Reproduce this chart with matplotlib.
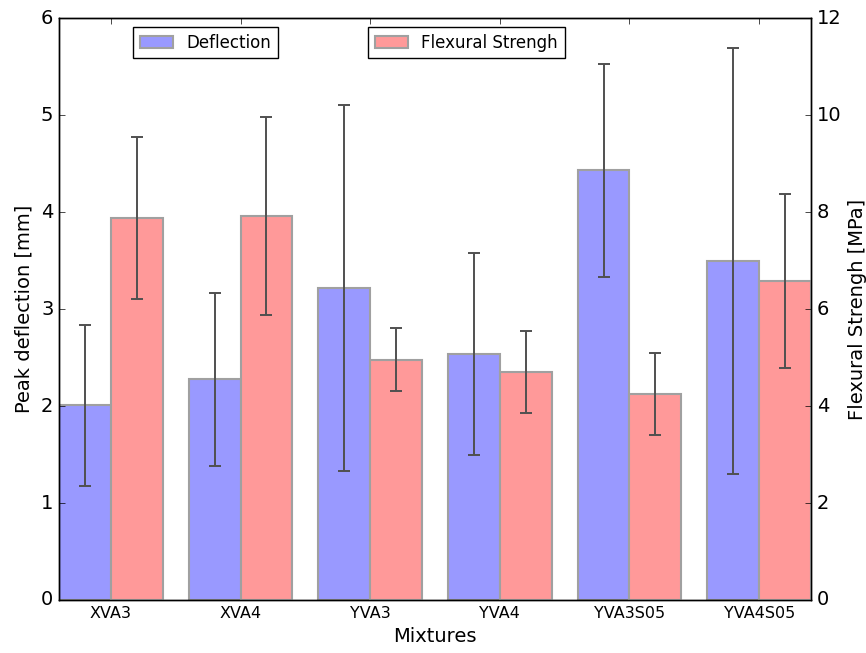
import matplotlib
matplotlib.use("Agg")
import matplotlib.pyplot as plt
import numpy as np

plt.style.use("classic")

mixtures = ["XVA3", "XVA4", "YVA3", "YVA4", "YVA3S05", "YVA4S05"]
deflection = [2.01, 2.275, 3.216, 2.536, 4.43, 3.495]
deflection_err = [0.83, 0.89, 1.89, 1.04, 1.10, 2.20]
strength = [7.88, 7.92, 4.955, 4.70, 4.25, 6.58]
strength_err = [1.67, 2.05, 0.65, 0.845, 0.85, 1.80]

x = np.arange(len(mixtures))
width = 0.4

fig = plt.figure(figsize=(8.66, 6.53), dpi=100, facecolor="white")
ax1 = fig.add_axes([0.0681, 0.0812, 0.8684, 0.8908])
ax2 = ax1.twinx()

err_style = dict(ecolor="#505050", capsize=4, elinewidth=1.4, capthick=1.4)
bar_edge = dict(edgecolor="#a0a0a0", linewidth=1.5)

b1 = ax1.bar(x - width, deflection, width, align="edge", color="#9999ff",
             yerr=deflection_err, error_kw=err_style, label="Deflection", **bar_edge)
b2 = ax2.bar(x, strength, width, align="edge", color="#ff9999",
             yerr=strength_err, error_kw=err_style, label="Flexural Strengh", **bar_edge)

ax1.set_xlim(-0.4, len(mixtures) - 0.6)
ax1.set_ylim(0, 6)
ax2.set_ylim(0, 12)
ax1.set_xticks(x)
ax1.set_xticklabels(mixtures, fontsize=11.5)
ax1.set_yticks(np.arange(0, 7, 1))
ax2.set_yticks(np.arange(0, 13, 2))
ax1.tick_params(axis="y", labelsize=14)
ax2.tick_params(axis="y", labelsize=14)

ax1.set_xlabel("Mixtures", fontsize=14)
ax1.set_ylabel("Peak deflection [mm]", fontsize=14)
ax2.set_ylabel("Flexural Strengh [MPa]", fontsize=14)

leg1 = fig.legend(handles=[b1], labels=["Deflection"], loc="upper left",
                  bbox_to_anchor=(0.1536, 0.9587), borderaxespad=0, fontsize=12)
leg2 = fig.legend(handles=[b2], labels=["Flexural Strengh"], loc="upper left",
                  bbox_to_anchor=(0.4249, 0.9587), borderaxespad=0, fontsize=12)

fig.savefig("out.png", dpi=100, facecolor="white")
